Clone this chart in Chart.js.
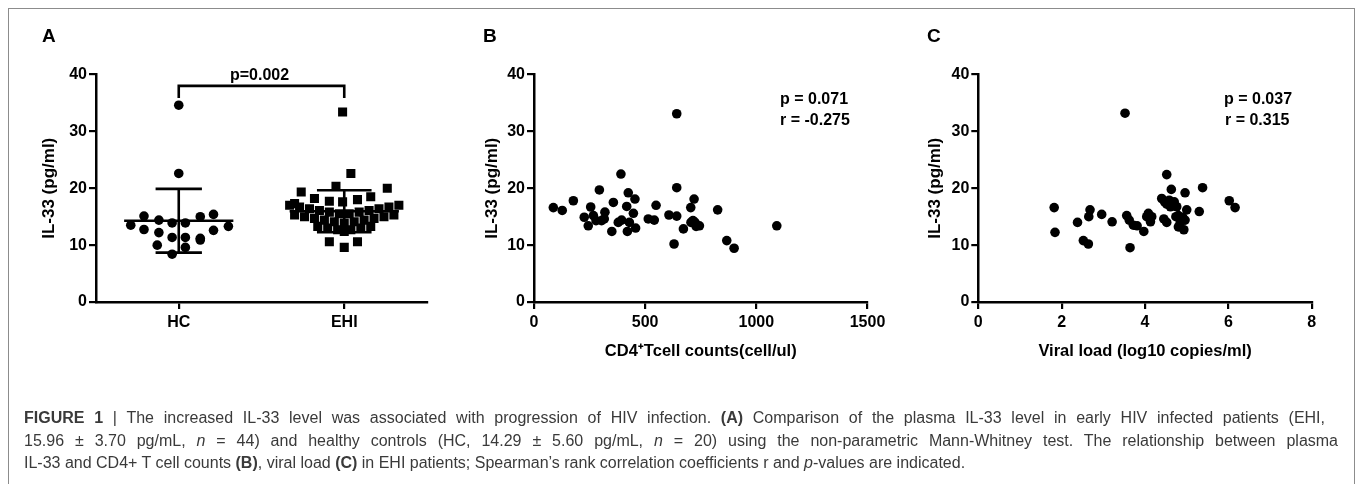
<!DOCTYPE html>
<html><head><meta charset="utf-8">
<script src="https://cdn.jsdelivr.net/npm/chart.js@4.4.1/dist/chart.umd.min.js"></script>
<style>
html,body{margin:0;padding:0;background:#fff;}
body{width:1357px;height:484px;position:relative;overflow:hidden;font-family:"Liberation Sans",Arial,sans-serif;}
canvas.c{position:absolute;left:0;top:0;}
.frame{position:absolute;left:8px;top:8px;width:1345px;height:520px;border:1.5px solid #8c8c8c;}
.lbl{position:absolute;font-weight:bold;color:#000;white-space:nowrap;line-height:1;}
.letter{font-size:19px;}
.stat{font-size:16px;}
.cap{position:absolute;left:24px;font-size:16px;line-height:20px;color:#3a3a3a;white-space:nowrap;font-family:"Liberation Sans",Arial,sans-serif;}
.just{text-align:justify;text-align-last:justify;white-space:normal;}
</style></head><body>
<div class="frame"></div>
<canvas id="cA" class="c" width="1357" height="484"></canvas>
<canvas id="cB" class="c" width="1357" height="484"></canvas>
<canvas id="cC" class="c" width="1357" height="484"></canvas>

<div class="lbl letter" style="left:42px;top:26px;">A</div>
<div class="lbl letter" style="left:483px;top:26px;">B</div>
<div class="lbl letter" style="left:927px;top:26px;">C</div>

<div class="lbl stat" style="left:780px;top:91px;">p = 0.071</div>
<div class="lbl stat" style="left:780px;top:112px;">r = -0.275</div>
<div class="lbl stat" style="left:1224px;top:91px;">p = 0.037</div>
<div class="lbl stat" style="left:1225px;top:112px;">r = 0.315</div>

<div class="cap just" style="top:408px;width:1301px;"><b>FIGURE 1</b> | The increased IL-33 level was associated with progression of HIV infection. <b>(A)</b> Comparison of the plasma IL-33 level in early HIV infected patients (EHI,</div>
<div class="cap just" style="top:431px;width:1314px;">15.96 ± 3.70 pg/mL, <i>n</i> = 44) and healthy controls (HC, 14.29 ± 5.60 pg/mL, <i>n</i> = 20) using the non-parametric Mann-Whitney test. The relationship between plasma</div>
<div class="cap" style="top:453px;">IL-33 and CD4+ T cell counts <b>(B)</b>, viral load <b>(C)</b> in EHI patients; Spearman’s rank correlation coefficients r and <i>p</i>-values are indicated.</div>

<script>
// ---------------- DATA ----------------
const groupLabels = ['HC', 'EHI'];
const hcValues = [34.6, 22.6, 13.5, 15.1, 12.75, 14.4, 12.2, 13.9, 10.0, 11.35, 8.4, 13.9, 11.35, 9.6, 15.0, 11.2, 10.9, 15.4, 12.6, 13.3];
const hcJitter = [0.0, 0.0, -0.29, -0.21, -0.21, -0.12, -0.12, -0.04, -0.13, -0.04, -0.04, 0.04, 0.04, 0.04, 0.13, 0.13, 0.13, 0.21, 0.21, 0.30];
const ehiValues = [33.4, 22.6, 20.35, 20.0, 19.35, 18.5, 18.2, 18.0, 17.7, 17.6, 17.3, 10.6, 9.6, 10.6,
  17.0, 16.7, 16.4, 16.1, 15.8, 15.5, 15.5, 15.8, 16.1, 16.4, 16.7, 17.0,
  15.3, 15.0, 14.7, 14.4, 14.1, 13.9, 14.1, 14.4, 14.7, 15.0, 15.3,
  13.3, 13.0, 12.7, 12.7, 13.0, 13.3, 12.4];
const ehiJitter = [-0.01, 0.04, -0.05, 0.26, -0.26, 0.16, -0.18, 0.08, -0.09, -0.01, -0.30, -0.09, 0.0, 0.08,
  -0.33, -0.27, -0.21, -0.15, -0.09, -0.03, 0.03, 0.09, 0.15, 0.21, 0.27, 0.33,
  -0.30, -0.24, -0.18, -0.12, -0.06, 0.0, 0.06, 0.12, 0.18, 0.24, 0.30,
  -0.16, -0.10, -0.04, 0.04, 0.10, 0.16, 0.0];
const groupMeans = [14.29, 15.96];
const groupSDs = [5.60, 3.70];
const pValueA = 'p=0.002';

const cd4Counts = [87, 127, 177, 226, 255, 244, 267, 279, 304, 294, 319, 316, 350, 357, 391, 379, 394, 417, 424, 420, 429, 447, 454, 457, 514, 541, 549, 607, 642, 642, 642, 630, 672, 705, 720, 706, 715, 724, 744, 729, 826, 867, 900, 1092];
const il33VsCd4 = [16.6, 16.1, 17.8, 14.9, 16.7, 13.4, 15.2, 14.3, 14.3, 19.7, 15.8, 14.6, 12.4, 17.5, 22.5, 14.0, 14.4, 16.8, 19.2, 12.4, 14.0, 15.6, 18.1, 13.0, 14.6, 14.4, 17.0, 15.3, 33.1, 20.1, 15.1, 10.2, 12.85, 16.6, 18.1, 14.0, 14.3, 14.0, 13.4, 13.3, 16.2, 10.8, 9.45, 13.4];

const viralLoad = [1.82, 1.84, 2.38, 2.52, 2.64, 2.68, 2.65, 2.96, 3.21, 3.52, 3.56, 3.62, 3.64, 3.72, 3.81, 3.97, 4.04, 4.08, 4.13, 4.16, 4.40, 4.52, 4.52, 4.63, 4.52, 4.61, 4.70, 4.76, 4.74, 4.80, 4.84, 4.93, 4.96, 4.96, 5.0, 4.47, 4.80, 4.90, 5.30, 5.38, 6.02, 6.16, 4.45, 4.58];
const il33VsViral = [16.6, 12.25, 14.0, 10.8, 10.2, 16.2, 15.0, 15.4, 14.1, 33.2, 15.2, 14.4, 9.55, 13.5, 13.4, 12.4, 15.0, 15.6, 14.1, 15.0, 18.2, 22.4, 14.0, 19.8, 17.2, 16.75, 17.6, 16.75, 15.0, 13.2, 13.8, 12.7, 19.2, 14.4, 16.2, 17.6, 15.2, 14.9, 15.9, 20.1, 17.8, 16.6, 14.6, 17.9];

const yTicks = [0, 10, 20, 30, 40];
const cd4Ticks = [0, 500, 1000, 1500];
const viralTicks = [0, 2, 4, 6, 8];

// ---------------- STYLE ----------------
const FONT = '"Liberation Sans", Arial, sans-serif';
const W = 1357, H = 484, YW = 60, XH = 60;

function baseAxis() {
  return {
    border: { display: true, color: '#000', width: 2.5 },
    grid: { drawOnChartArea: false, drawTicks: true, tickLength: 7, color: '#000', lineWidth: 2.2 },
    ticks: { color: '#000', font: { family: FONT, size: 16, weight: 'bold' }, padding: 2 }
  };
}
function yAxis(titlePad) {
  const a = baseAxis();
  return Object.assign(a, {
    type: 'linear', min: 0, max: 40,
    afterBuildTicks: s => { s.ticks = yTicks.map(v => ({ value: v })); },
    afterFit: s => { s.width = YW; },
    title: { display: true, text: 'IL-33 (pg/ml)', color: '#000', font: { family: FONT, size: 17, weight: 'bold' }, padding: { top: titlePad, bottom: 0 } }
  });
}
function xAxis(min, max, ticks, labelFn, title) {
  const a = baseAxis();
  a.ticks.callback = labelFn || (v => String(v));
  a.ticks.maxRotation = 0;
  a.ticks.autoSkip = false;
  a.ticks.padding = 4;
  return Object.assign(a, {
    type: 'linear', min, max,
    afterBuildTicks: s => { s.ticks = ticks.map(v => ({ value: v })); },
    afterFit: s => { s.height = XH; },
    title: title ? { display: true, text: title, color: '#000', font: { family: FONT, size: 16.5, weight: 'bold' }, padding: { top: 0, bottom: 1 } } : { display: false }
  });
}
function layoutFor(area) {
  return { padding: { left: area.left - YW, top: area.top, right: W - area.right, bottom: H - area.bottom - XH } };
}
function baseOpts(area, x, y) {
  return {
    responsive: false, animation: false, devicePixelRatio: 1,
    layout: layoutFor(area),
    plugins: { legend: { display: false }, tooltip: { enabled: false } },
    scales: { x, y },
    events: []
  };
}

// Panel A: mean ± SD and significance bracket
const meanSdPlugin = {
  id: 'meanSd',
  afterDatasetsDraw(chart) {
    const { ctx, scales: { x, y } } = chart;
    ctx.save();
    ctx.strokeStyle = '#000';
    ctx.lineWidth = 2.6;
    ctx.lineCap = 'butt';
    const capHalf = [0.14, 0.165];
    groupMeans.forEach((m, i) => {
      const sd = groupSDs[i];
      const xl = x.getPixelForValue(i - 0.33), xr = x.getPixelForValue(i + 0.33);
      const xc = x.getPixelForValue(i);
      const cl = x.getPixelForValue(i - capHalf[i]), cr = x.getPixelForValue(i + capHalf[i]);
      const ym = y.getPixelForValue(m), yt = y.getPixelForValue(m + sd), yb = y.getPixelForValue(m - sd);
      ctx.beginPath();
      ctx.moveTo(xl, ym); ctx.lineTo(xr, ym);
      ctx.moveTo(xc, yt); ctx.lineTo(xc, yb);
      ctx.moveTo(cl, yt); ctx.lineTo(cr, yt);
      ctx.moveTo(cl, yb); ctx.lineTo(cr, yb);
      ctx.stroke();
    });
    const x0 = x.getPixelForValue(0), x1 = x.getPixelForValue(1);
    const yb = y.getPixelForValue(38);
    ctx.beginPath();
    ctx.moveTo(x0, yb + 12); ctx.lineTo(x0, yb); ctx.lineTo(x1, yb); ctx.lineTo(x1, yb + 12);
    ctx.stroke();
    ctx.fillStyle = '#000';
    ctx.font = 'bold 16px ' + FONT;
    ctx.textAlign = 'center';
    ctx.textBaseline = 'alphabetic';
    ctx.fillText(pValueA, (x0 + x1) / 2 - 2, yb - 6);
    ctx.restore();
  }
};

const areaA = { left: 96, top: 74.5, right: 427, bottom: 302 };
new Chart(document.getElementById('cA'), {
  type: 'scatter',
  data: {
    datasets: [
      { data: hcValues.map((v, i) => ({ x: 0 + hcJitter[i], y: v })), pointStyle: 'circle', pointRadius: 4.8, backgroundColor: '#000', borderWidth: 0 },
      { data: ehiValues.map((v, i) => ({ x: 1 + ehiJitter[i], y: v })), pointStyle: 'rect', pointRadius: 6.4, backgroundColor: '#000', borderWidth: 0 }
    ]
  },
  options: baseOpts(areaA, xAxis(-0.5, 1.5, [0, 1], v => groupLabels[v] || '', null), yAxis(3.5)),
  plugins: [meanSdPlugin]
});

const areaB = { left: 534, top: 74.5, right: 867.5, bottom: 302 };
new Chart(document.getElementById('cB'), {
  type: 'scatter',
  data: { datasets: [{ data: cd4Counts.map((v, i) => ({ x: v, y: il33VsCd4[i] })), pointRadius: 4.8, backgroundColor: '#000', borderWidth: 0 }] },
  options: baseOpts(areaB, xAxis(0, 1500, cd4Ticks, null, 'CD4⁺Tcell counts(cell/ul)'), yAxis(8.6))
});

const areaC = { left: 978.3, top: 74.5, right: 1311.8, bottom: 302 };
new Chart(document.getElementById('cC'), {
  type: 'scatter',
  data: { datasets: [{ data: viralLoad.map((v, i) => ({ x: v, y: il33VsViral[i] })), pointRadius: 4.8, backgroundColor: '#000', borderWidth: 0 }] },
  options: baseOpts(areaC, xAxis(0, 8, viralTicks, null, 'Viral load (log10 copies/ml)'), yAxis(7))
});
</script>
</body></html>
